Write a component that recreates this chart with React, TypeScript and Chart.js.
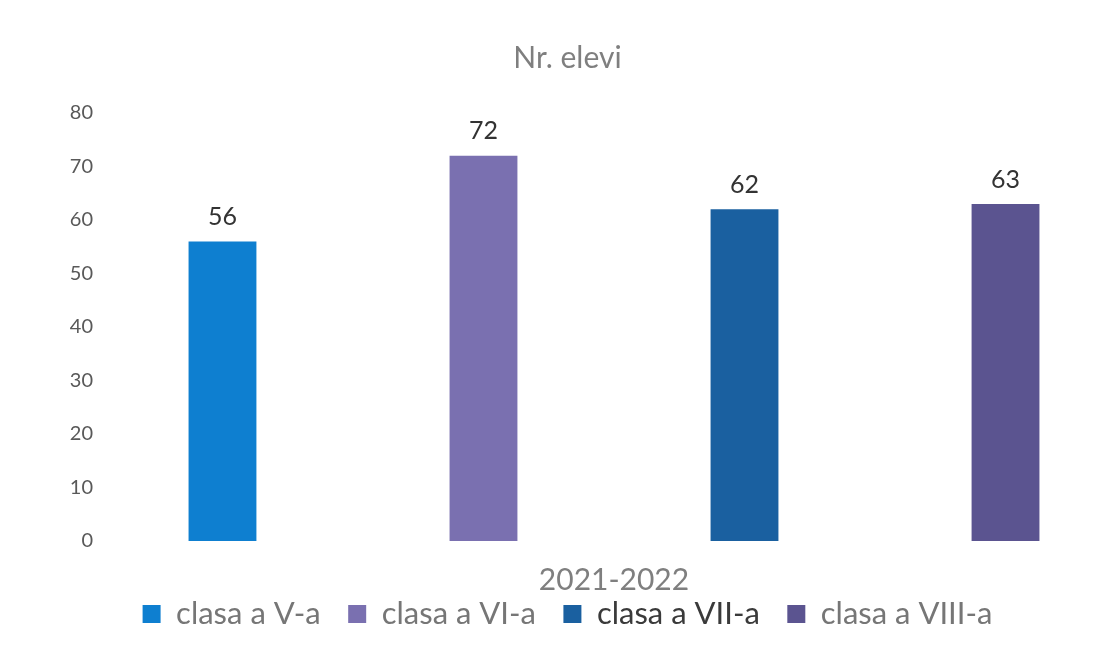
import React, { useEffect, useRef } from 'react';
import { Chart, registerables } from 'chart.js';

Chart.register(...registerables);

const categories = ['2021-2022'];
const seriesNames = ['clasa a V-a', 'clasa a VI-a', 'clasa a VII-a', 'clasa a VIII-a'];
const clasaV = [56];
const clasaVI = [72];
const clasaVII = [62];
const clasaVIII = [63];
const seriesValues = [clasaV, clasaVI, clasaVII, clasaVIII];
const seriesColors = ['#0e7fd0', '#7a70b0', '#1a60a0', '#5b5490'];
const legendTextColors = ['#767676', '#767676', '#3a3a3a', '#767676'];
const yMin = 0;
const yMax = 80;
const yStep = 10;

const FONT = 'Lato, "Open Sans", sans-serif';

const valueLabels = {
  id: 'valueLabels',
  afterDatasetsDraw(chart: any) {
    const ctx = chart.ctx;
    ctx.save();
    ctx.font = `25px ${FONT}`;
    ctx.fillStyle = '#333333';
    ctx.textAlign = 'center';
    ctx.textBaseline = 'bottom';
    chart.data.datasets.forEach((ds: any, i: number) => {
      const meta = chart.getDatasetMeta(i);
      meta.data.forEach((bar: any, j: number) => {
        ctx.fillText(String(ds.data[j]), bar.x, bar.y - 12);
      });
    });
    ctx.restore();
  },
};

export default function App() {
  const ref = useRef<HTMLCanvasElement | null>(null);

  useEffect(() => {
    if (!ref.current) return;
    const chart = new Chart(ref.current, {
      type: 'bar',
      data: {
        labels: categories,
        datasets: seriesNames.map((name, i) => ({
          label: name,
          data: seriesValues[i],
          backgroundColor: seriesColors[i],
          borderWidth: 0,
          categoryPercentage: 1.0156,
          barPercentage: 0.26,
        })),
      },
      options: {
        responsive: false,
        maintainAspectRatio: false,
        animation: false,
        layout: { padding: { left: 7, right: 0, top: 0, bottom: 7.5 } },
        plugins: {
          title: {
            display: true,
            text: 'Nr. elevi',
            color: '#7f7f7f',
            font: { family: FONT, size: 30, weight: 'normal' },
            padding: { top: 40, bottom: 37 },
          },
          legend: {
            position: 'bottom',
            labels: {
              color: '#767676',
              font: { family: FONT, size: 31 },
              boxWidth: 18,
              boxHeight: 18,
              padding: 27.5,
              generateLabels: (c: any) => {
                const items = Chart.defaults.plugins.legend.labels.generateLabels(c);
                items.forEach((it: any, i: number) => {
                  it.fontColor = legendTextColors[i];
                });
                return items;
              },
            },
          },
          tooltip: { enabled: false },
        },
        scales: {
          x: {
            grid: { display: false, drawTicks: false },
            border: { display: false },
            ticks: { display: false },
            title: {
              display: true,
              text: categories[0],
              color: '#7f7f7f',
              font: { family: FONT, size: 30 },
              padding: { top: 0, bottom: -27 },
            },
            afterFit: (s: any) => {
              s.height = 30;
            },
          },
          y: {
            min: yMin,
            max: yMax,
            grid: { display: false, drawTicks: false },
            border: { display: false },
            ticks: {
              stepSize: yStep,
              color: '#595959',
              font: { family: FONT, size: 20 },
              padding: 7,
            },
            afterFit: (s: any) => {
              s.width = 93;
            },
          },
        },
      },
      plugins: [valueLabels],
    });
    return () => chart.destroy();
  }, []);

  return (
    <div
      style={{
        position: 'fixed',
        left: 0,
        top: 0,
        width: 1107,
        height: 647,
        overflow: 'hidden',
        background: '#ffffff',
      }}
    >
      <canvas ref={ref} width={1128} height={647} style={{ display: 'block' }} />
    </div>
  );
}
